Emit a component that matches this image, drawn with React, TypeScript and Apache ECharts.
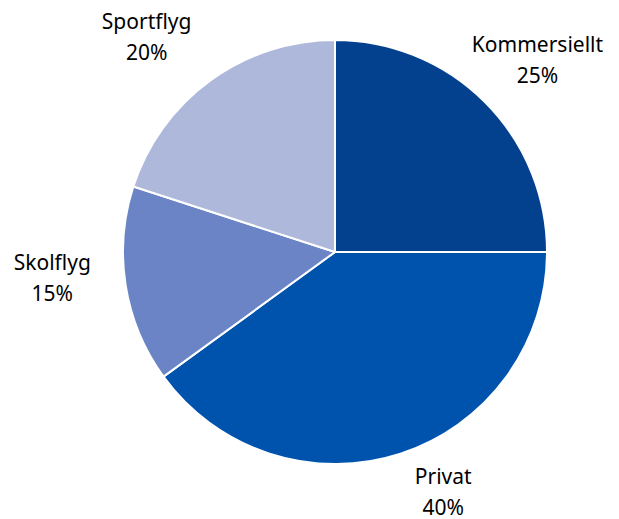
import React, { useEffect, useRef } from "react";
import * as echarts from "echarts";

const categories = ["Kommersiellt", "Privat", "Skolflyg", "Sportflyg"];
const values = [25, 40, 15, 20];
const colors = ["#03418F", "#0053AD", "#6A84C5", "#AEB8DB"];

// small label nudges (px) to mimic the reference's hand-placed labels
const labelNudgeX = [0, 29, -25, -30];
const labelNudgeY = [10, -4, -15, 2];

const CX = 335;
const CY = 252;
const R = 212;
const GAP = 6;

export default function App() {
  const ref = useRef<HTMLDivElement>(null);
  useEffect(() => {
    if (!ref.current) return;
    const chart = echarts.init(ref.current, null, { renderer: "svg" });
    const total = values.reduce((a, b) => a + b, 0);
    chart.setOption({
      animation: false,
      backgroundColor: "#ffffff",
      series: [
        {
          type: "pie",
          center: [CX, CY],
          radius: R,
          startAngle: 90,
          clockwise: true,
          data: categories.map((name, i) => ({
            name,
            value: values[i],
            itemStyle: { color: colors[i] },
          })),
          itemStyle: { borderColor: "#ffffff", borderWidth: 2 },
          label: {
            show: true,
            position: "outside",
            alignTo: "none",
            overflow: "none",
            formatter: "{b}\n{d}%",
            fontFamily: "Noto Sans",
            fontSize: 21,
            lineHeight: 31,
            color: "#000000",
          },
          labelLine: { show: false },
          emphasis: { disabled: true },
          labelLayout: (params: any) => {
            const idx = params.dataIndex;
            let cum = 0;
            for (let k = 0; k < idx; k++) cum += values[k];
            const mid = ((cum + values[idx] / 2) / total) * Math.PI * 2;
            const ux = Math.sin(mid);
            const uy = -Math.cos(mid);
            const w = params.labelRect.width;
            const h = params.labelRect.height;
            const d = R + GAP + (w / 2) * Math.abs(ux) + (h / 2) * Math.abs(uy);
            return {
              x: CX + ux * d + labelNudgeX[idx],
              y: CY + uy * d + labelNudgeY[idx],
              align: "center",
              verticalAlign: "middle",
            };
          },
        },
      ],
    });
    return () => chart.dispose();
  }, []);
  return (
    <div
      ref={ref}
      style={{ position: "fixed", left: 0, top: 0, width: 619, height: 519 }}
    />
  );
}
